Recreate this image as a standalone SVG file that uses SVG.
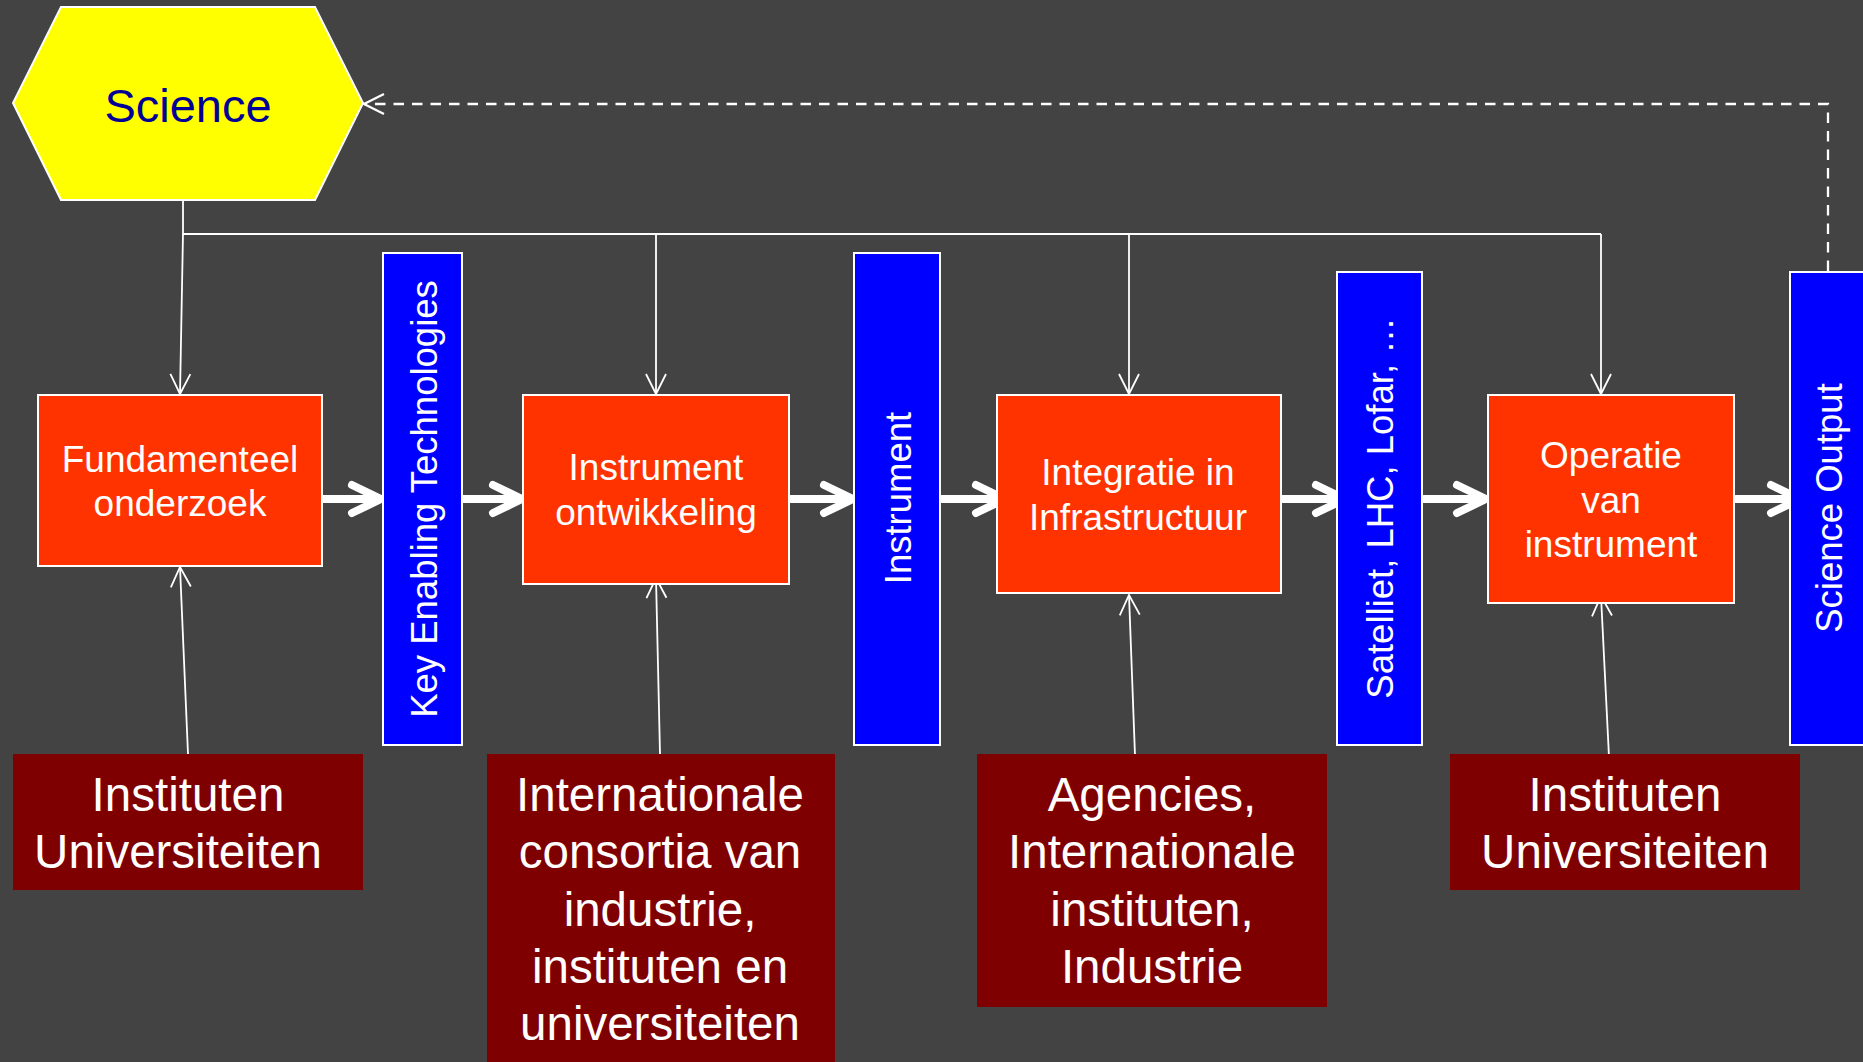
<svg xmlns="http://www.w3.org/2000/svg" width="1863" height="1062" viewBox="0 0 1863 1062">
<defs>
<style>
text{font-family:"Liberation Sans",Arial,sans-serif;fill:#fff;text-anchor:middle}
.or{fill:#FF3300;stroke:#fff;stroke-width:2}
.bl{fill:#0000FF;stroke:#fff;stroke-width:2}
.dr{fill:#7F0000}
.t37{font-size:37px}
.t36{font-size:36.5px}
.t48{font-size:47.5px}
.thin{fill:none;stroke:#fff;stroke-width:1.8}
.thick{fill:none;stroke:#fff;stroke-width:8;stroke-linecap:round;stroke-linejoin:round}
.dash{fill:none;stroke:#fff;stroke-width:2.3;stroke-dasharray:10.5 8}
</style>
<marker id="open" viewBox="0 0 24 24" refX="22" refY="12" markerWidth="24" markerHeight="24" markerUnits="userSpaceOnUse" orient="auto">
<path d="M2,2 L22,12 L2,22" fill="none" stroke="#fff" stroke-width="1.8"/>
</marker>
<marker id="openD" viewBox="0 0 26 26" refX="24" refY="13" markerWidth="26" markerHeight="26" markerUnits="userSpaceOnUse" orient="auto">
<path d="M4,3 L24,13 L4,23" fill="none" stroke="#fff" stroke-width="2.3"/>
</marker>
</defs>
<rect width="1863" height="1062" fill="#434343"/>

<g id="connectors">
<!-- thin lines from Science -->
<path class="thin" d="M183,200 L183,234 L1601,234"/>
<path class="thin" d="M183,234 L180,394" marker-end="url(#open)"/>
<path class="thin" d="M656,234 L656,394" marker-end="url(#open)"/>
<path class="thin" d="M1129,234 L1129,394" marker-end="url(#open)"/>
<path class="thin" d="M1601,234 L1601,394" marker-end="url(#open)"/>
<!-- thin lines from bottom boxes -->
<path class="thin" d="M188,754 L180,567" marker-end="url(#open)"/>
<path class="thin" d="M660,754 L656,578" marker-end="url(#open)"/>
<path class="thin" d="M1136,782 L1129,595" marker-end="url(#open)"/>
<path class="thin" d="M1610,777 L1601,596" marker-end="url(#open)"/>
<!-- thick flow arrows -->
<g class="thick">
<path d="M320,499 L381,499 M352,485 L381,499 L352,513"/>
<path d="M461,499 L522,499 M493,485 L522,499 L493,513"/>
<path d="M791,499 L853,499 M824,485 L853,499 L824,513"/>
<path d="M942,499 L1005,499 M976,485 L1005,499 L976,513"/>
<path d="M1283,499 L1345,499 M1316,485 L1345,499 L1316,513"/>
<path d="M1424,499 L1486,499 M1457,485 L1486,499 L1457,513"/>
<path d="M1736,499 L1800,499 M1771,485 L1800,499 L1771,513"/>
</g>
<!-- dashed feedback -->
<path class="dash" d="M1828,271 L1828,104 L364,104" marker-end="url(#openD)"/>
</g>

<g id="science">
<polygon points="61,7 315,7 363,103 315,200 61,200 13,103" fill="#FFFF00" stroke="#fff" stroke-width="2"/>
<text x="188" y="122" style="font-size:47px;fill:#000099">Science</text>
</g>

<g id="fundamenteel">
<rect class="or" x="38" y="395" width="284" height="171"/>
<text class="t37" x="180" y="472">Fundamenteel</text>
<text class="t37" x="180" y="516">onderzoek</text>
</g>

<g id="ket">
<rect class="bl" x="383" y="253" width="79" height="492"/>
<text class="t36" transform="translate(437,499) rotate(-90)">Key Enabling Technologies</text>
</g>

<g id="instrument-ontwikkeling">
<rect class="or" x="523" y="395" width="266" height="189"/>
<text class="t37" x="656" y="480">Instrument</text>
<text class="t37" x="656" y="525">ontwikkeling</text>
</g>

<g id="instrument">
<rect class="bl" x="854" y="253" width="86" height="492"/>
<text class="t36" transform="translate(911,498) rotate(-90)">Instrument</text>
</g>

<g id="integratie">
<rect class="or" x="997" y="395" width="284" height="198"/>
<text class="t37" x="1138" y="485">Integratie in</text>
<text class="t37" x="1138" y="530">Infrastructuur</text>
</g>

<g id="satelliet">
<rect class="bl" x="1337" y="272" width="85" height="473"/>
<text class="t36" transform="translate(1393,508) rotate(-90)">Satelliet, LHC, Lofar, …</text>
</g>

<g id="operatie">
<rect class="or" x="1488" y="395" width="246" height="208"/>
<text class="t37" x="1611" y="468">Operatie</text>
<text class="t37" x="1611" y="513">van</text>
<text class="t37" x="1611" y="557">instrument</text>
</g>

<g id="science-output">
<rect class="bl" x="1790" y="272" width="90" height="473"/>
<text class="t36" transform="translate(1842,508) rotate(-90)">Science Output</text>
</g>

<g id="actors-1">
<rect class="dr" x="13" y="754" width="350" height="136"/>
<text class="t48" x="188" y="811">Instituten</text>
<text class="t48" x="178" y="868">Universiteiten</text>
</g>

<g id="actors-2">
<rect class="dr" x="487" y="754" width="348" height="320"/>
<text class="t48" x="660" y="811">Internationale</text>
<text class="t48" x="660" y="868">consortia van</text>
<text class="t48" x="660" y="926">industrie,</text>
<text class="t48" x="660" y="983">instituten en</text>
<text class="t48" x="660" y="1040">universiteiten</text>
</g>

<g id="actors-3">
<rect class="dr" x="977" y="754" width="350" height="253"/>
<text class="t48" x="1152" y="811">Agencies,</text>
<text class="t48" x="1152" y="868">Internationale</text>
<text class="t48" x="1152" y="926">instituten,</text>
<text class="t48" x="1152" y="983">Industrie</text>
</g>

<g id="actors-4">
<rect class="dr" x="1450" y="754" width="350" height="136"/>
<text class="t48" x="1625" y="811">Instituten</text>
<text class="t48" x="1625" y="868">Universiteiten</text>
</g>
</svg>
